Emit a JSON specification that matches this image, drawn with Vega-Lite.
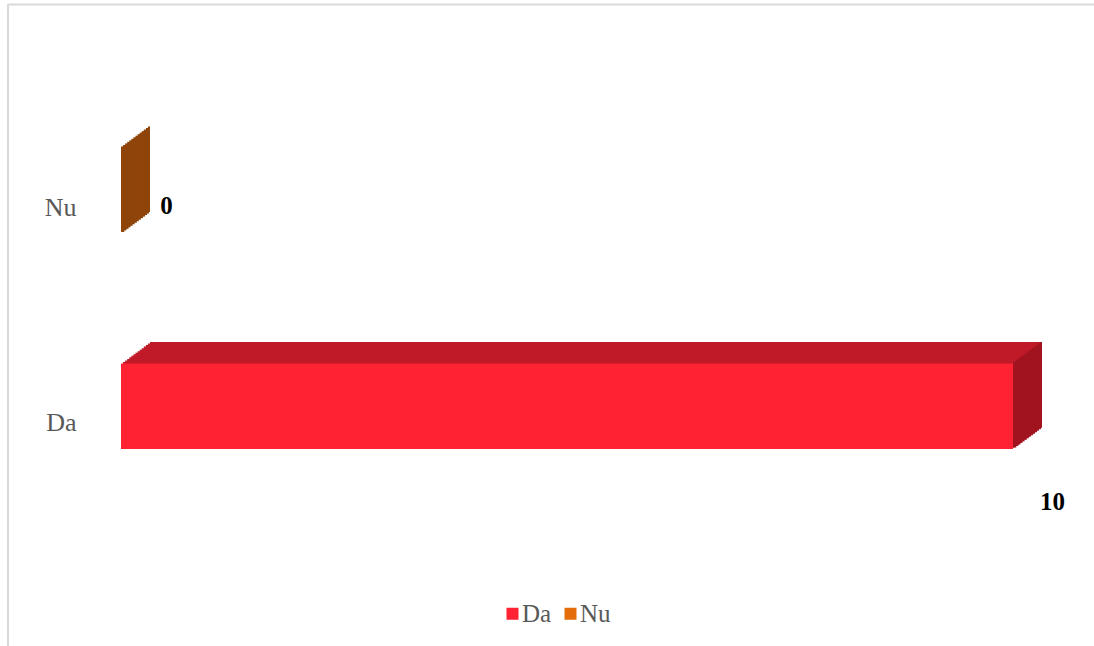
{
  "$schema": "https://vega.github.io/schema/vega-lite/v6.json",
  "width": 1086,
  "height": 642,
  "autosize": {"type": "none"},
  "padding": {"left": 8, "top": 4, "right": 0, "bottom": 0},
  "background": "white",
  "config": {
    "view": {"stroke": null},
    "font": "Liberation Serif"
  },
  "data": {"values": [{"cat": "Da", "v": 10}, {"cat": "Nu", "v": 0}]},
  "layer": [
    {"mark": {"type": "rule", "color": "#D9D9D9", "strokeWidth": 2},
     "encoding": {"x": {"datum": -1.2668, "type": "quantitative", "scale": {"domain": [-1.2668, 10.908], "nice": false, "zero": false},
       "axis": {"orient": "top", "domain": true, "domainColor": "#D9D9D9", "domainWidth": 2, "labels": false, "ticks": false, "grid": false, "title": null}}}},
    {
      "encoding": {
        "y": {
          "field": "cat", "type": "nominal",
          "scale": {"domain": ["Nu", "Da"], "paddingInner": 0.6032, "paddingOuter": 0.791, "align": 0.4223},
          "axis": {"orient": "left", "offset": -113, "domain": false, "ticks": false, "grid": false, "title": null,
                   "labelPadding": 45, "labelOffset": 17, "labelFont": "Liberation Serif", "labelFontSize": 26, "labelColor": "#595959"}
        }
      },
      "layer": [
        {"mark": {"type": "bar", "color": "#C01A28", "xOffset": 29, "x2Offset": 29, "yOffset": -21.5, "y2Offset": -21.5},
         "encoding": {"x": {"field": "v", "type": "quantitative"}, "x2": {"datum": 0}}},
        {"mark": {"type": "bar", "color": "#C01A28", "xOffset": 26.93, "x2Offset": 26.93, "yOffset": -19.96, "y2Offset": -19.96},
         "encoding": {"x": {"field": "v", "type": "quantitative"}, "x2": {"datum": 0}}},
        {"mark": {"type": "bar", "color": "#C01A28", "xOffset": 24.86, "x2Offset": 24.86, "yOffset": -18.43, "y2Offset": -18.43},
         "encoding": {"x": {"field": "v", "type": "quantitative"}, "x2": {"datum": 0}}},
        {"mark": {"type": "bar", "color": "#C01A28", "xOffset": 22.79, "x2Offset": 22.79, "yOffset": -16.89, "y2Offset": -16.89},
         "encoding": {"x": {"field": "v", "type": "quantitative"}, "x2": {"datum": 0}}},
        {"mark": {"type": "bar", "color": "#C01A28", "xOffset": 20.71, "x2Offset": 20.71, "yOffset": -15.36, "y2Offset": -15.36},
         "encoding": {"x": {"field": "v", "type": "quantitative"}, "x2": {"datum": 0}}},
        {"mark": {"type": "bar", "color": "#C01A28", "xOffset": 18.64, "x2Offset": 18.64, "yOffset": -13.82, "y2Offset": -13.82},
         "encoding": {"x": {"field": "v", "type": "quantitative"}, "x2": {"datum": 0}}},
        {"mark": {"type": "bar", "color": "#C01A28", "xOffset": 16.57, "x2Offset": 16.57, "yOffset": -12.29, "y2Offset": -12.29},
         "encoding": {"x": {"field": "v", "type": "quantitative"}, "x2": {"datum": 0}}},
        {"mark": {"type": "bar", "color": "#C01A28", "xOffset": 14.5, "x2Offset": 14.5, "yOffset": -10.75, "y2Offset": -10.75},
         "encoding": {"x": {"field": "v", "type": "quantitative"}, "x2": {"datum": 0}}},
        {"mark": {"type": "bar", "color": "#C01A28", "xOffset": 12.43, "x2Offset": 12.43, "yOffset": -9.21, "y2Offset": -9.21},
         "encoding": {"x": {"field": "v", "type": "quantitative"}, "x2": {"datum": 0}}},
        {"mark": {"type": "bar", "color": "#C01A28", "xOffset": 10.36, "x2Offset": 10.36, "yOffset": -7.68, "y2Offset": -7.68},
         "encoding": {"x": {"field": "v", "type": "quantitative"}, "x2": {"datum": 0}}},
        {"mark": {"type": "bar", "color": "#C01A28", "xOffset": 8.29, "x2Offset": 8.29, "yOffset": -6.14, "y2Offset": -6.14},
         "encoding": {"x": {"field": "v", "type": "quantitative"}, "x2": {"datum": 0}}},
        {"mark": {"type": "bar", "color": "#C01A28", "xOffset": 6.21, "x2Offset": 6.21, "yOffset": -4.61, "y2Offset": -4.61},
         "encoding": {"x": {"field": "v", "type": "quantitative"}, "x2": {"datum": 0}}},
        {"mark": {"type": "bar", "color": "#C01A28", "xOffset": 4.14, "x2Offset": 4.14, "yOffset": -3.07, "y2Offset": -3.07},
         "encoding": {"x": {"field": "v", "type": "quantitative"}, "x2": {"datum": 0}}},
        {"mark": {"type": "bar", "color": "#C01A28", "xOffset": 2.07, "x2Offset": 2.07, "yOffset": -1.54, "y2Offset": -1.54},
         "encoding": {"x": {"field": "v", "type": "quantitative"}, "x2": {"datum": 0}}},

        {"mark": {"type": "bar", "xOffset": 0, "x2Offset": 3.3, "yOffset": -1.54, "y2Offset": -1.54},
         "encoding": {"x": {"field": "v", "type": "quantitative"}, "x2": {"field": "v"}, "color": {"condition": {"test": "datum.cat == 'Da'", "value": "#A1141F"}, "value": "#8F4409"}}},
        {"mark": {"type": "bar", "xOffset": 2.07, "x2Offset": 5.4, "yOffset": -3.07, "y2Offset": -3.07},
         "encoding": {"x": {"field": "v", "type": "quantitative"}, "x2": {"field": "v"}, "color": {"condition": {"test": "datum.cat == 'Da'", "value": "#A1141F"}, "value": "#8F4409"}}},
        {"mark": {"type": "bar", "xOffset": 4.14, "x2Offset": 7.5, "yOffset": -4.61, "y2Offset": -4.61},
         "encoding": {"x": {"field": "v", "type": "quantitative"}, "x2": {"field": "v"}, "color": {"condition": {"test": "datum.cat == 'Da'", "value": "#A1141F"}, "value": "#8F4409"}}},
        {"mark": {"type": "bar", "xOffset": 6.21, "x2Offset": 9.5, "yOffset": -6.14, "y2Offset": -6.14},
         "encoding": {"x": {"field": "v", "type": "quantitative"}, "x2": {"field": "v"}, "color": {"condition": {"test": "datum.cat == 'Da'", "value": "#A1141F"}, "value": "#8F4409"}}},
        {"mark": {"type": "bar", "xOffset": 8.29, "x2Offset": 11.6, "yOffset": -7.68, "y2Offset": -7.68},
         "encoding": {"x": {"field": "v", "type": "quantitative"}, "x2": {"field": "v"}, "color": {"condition": {"test": "datum.cat == 'Da'", "value": "#A1141F"}, "value": "#8F4409"}}},
        {"mark": {"type": "bar", "xOffset": 10.36, "x2Offset": 13.7, "yOffset": -9.21, "y2Offset": -9.21},
         "encoding": {"x": {"field": "v", "type": "quantitative"}, "x2": {"field": "v"}, "color": {"condition": {"test": "datum.cat == 'Da'", "value": "#A1141F"}, "value": "#8F4409"}}},
        {"mark": {"type": "bar", "xOffset": 12.43, "x2Offset": 15.8, "yOffset": -10.75, "y2Offset": -10.75},
         "encoding": {"x": {"field": "v", "type": "quantitative"}, "x2": {"field": "v"}, "color": {"condition": {"test": "datum.cat == 'Da'", "value": "#A1141F"}, "value": "#8F4409"}}},
        {"mark": {"type": "bar", "xOffset": 14.5, "x2Offset": 17.8, "yOffset": -12.29, "y2Offset": -12.29},
         "encoding": {"x": {"field": "v", "type": "quantitative"}, "x2": {"field": "v"}, "color": {"condition": {"test": "datum.cat == 'Da'", "value": "#A1141F"}, "value": "#8F4409"}}},
        {"mark": {"type": "bar", "xOffset": 16.57, "x2Offset": 19.9, "yOffset": -13.82, "y2Offset": -13.82},
         "encoding": {"x": {"field": "v", "type": "quantitative"}, "x2": {"field": "v"}, "color": {"condition": {"test": "datum.cat == 'Da'", "value": "#A1141F"}, "value": "#8F4409"}}},
        {"mark": {"type": "bar", "xOffset": 18.64, "x2Offset": 22.0, "yOffset": -15.36, "y2Offset": -15.36},
         "encoding": {"x": {"field": "v", "type": "quantitative"}, "x2": {"field": "v"}, "color": {"condition": {"test": "datum.cat == 'Da'", "value": "#A1141F"}, "value": "#8F4409"}}},
        {"mark": {"type": "bar", "xOffset": 20.71, "x2Offset": 24.0, "yOffset": -16.89, "y2Offset": -16.89},
         "encoding": {"x": {"field": "v", "type": "quantitative"}, "x2": {"field": "v"}, "color": {"condition": {"test": "datum.cat == 'Da'", "value": "#A1141F"}, "value": "#8F4409"}}},
        {"mark": {"type": "bar", "xOffset": 22.79, "x2Offset": 26.1, "yOffset": -18.43, "y2Offset": -18.43},
         "encoding": {"x": {"field": "v", "type": "quantitative"}, "x2": {"field": "v"}, "color": {"condition": {"test": "datum.cat == 'Da'", "value": "#A1141F"}, "value": "#8F4409"}}},
        {"mark": {"type": "bar", "xOffset": 24.86, "x2Offset": 28.0, "yOffset": -19.96, "y2Offset": -19.96},
         "encoding": {"x": {"field": "v", "type": "quantitative"}, "x2": {"field": "v"}, "color": {"condition": {"test": "datum.cat == 'Da'", "value": "#A1141F"}, "value": "#8F4409"}}},
        {"mark": {"type": "bar", "xOffset": 26.93, "x2Offset": 29, "yOffset": -21.5, "y2Offset": -21.5},
         "encoding": {"x": {"field": "v", "type": "quantitative"}, "x2": {"field": "v"}, "color": {"condition": {"test": "datum.cat == 'Da'", "value": "#A1141F"}, "value": "#8F4409"}}},

        {"mark": {"type": "bar"},
         "encoding": {
           "x": {"field": "v", "type": "quantitative"}, "x2": {"datum": 0},
           "color": {"field": "cat", "type": "nominal",
             "scale": {"domain": ["Da", "Nu"], "range": ["#FF2233", "#E46C0A"]},
             "legend": {"title": null, "orient": "none", "direction": "horizontal", "legendX": 492, "legendY": 597,
                        "symbolType": "square", "symbolSize": 144, "symbolStrokeWidth": 0, "labelFont": "Liberation Serif",
                        "labelFontSize": 25, "labelColor": "#595959", "labelOffset": -3, "columnPadding": 6}}
         }},

        {"transform": [{"filter": "datum.cat == 'Nu'"}],
         "mark": {"type": "text", "dx": 45.5, "dy": 15.5, "font": "Liberation Serif", "fontSize": 25, "fontWeight": "bold", "color": "#000000", "align": "center", "baseline": "middle"},
         "encoding": {"x": {"field": "v", "type": "quantitative"}, "text": {"field": "v", "type": "quantitative"}}},
        {"transform": [{"filter": "datum.cat == 'Da'"}],
         "mark": {"type": "text", "dx": 39.5, "dy": 96, "font": "Liberation Serif", "fontSize": 25, "fontWeight": "bold", "color": "#000000", "align": "center", "baseline": "middle"},
         "encoding": {"x": {"field": "v", "type": "quantitative"}, "text": {"field": "v", "type": "quantitative"}}}
      ]
    }
  ]
}
